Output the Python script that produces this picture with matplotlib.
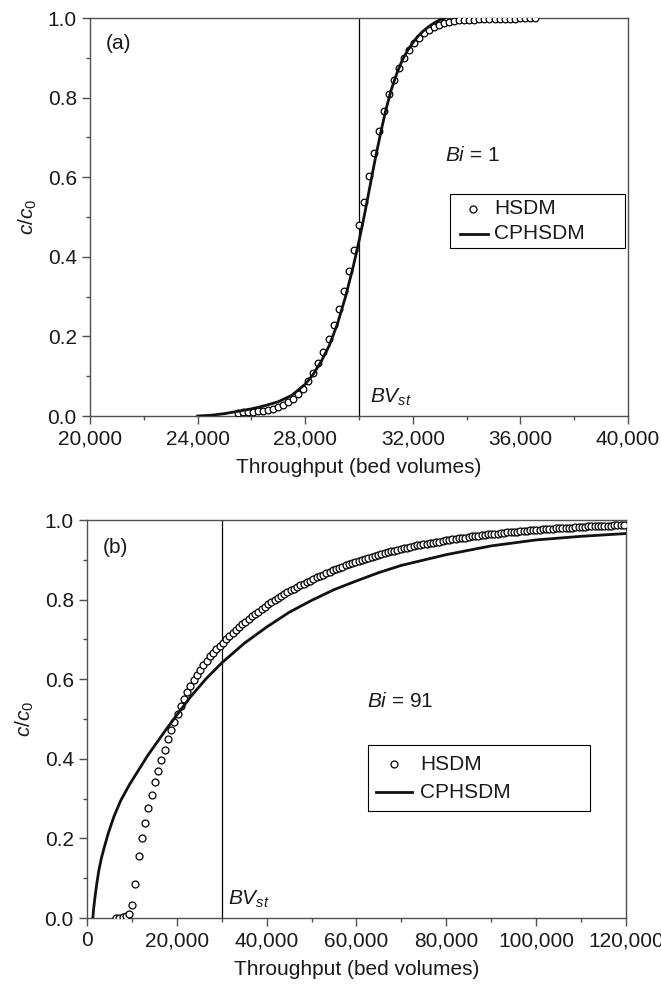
import numpy as np
import matplotlib
matplotlib.use('Agg')
import matplotlib.pyplot as plt
from matplotlib.patches import Rectangle
from matplotlib.ticker import MultipleLocator, StrMethodFormatter

plt.rcParams['font.family'] = ['Liberation Sans', 'DejaVu Sans']
plt.rcParams['mathtext.fontset'] = 'custom'
plt.rcParams['mathtext.rm'] = 'Liberation Sans'
plt.rcParams['mathtext.it'] = 'Liberation Sans:italic'

# panel (a), Bi = 1
bv_st = 30000
hsdm_a_x = np.arange(25500, 25500 + 187 * 60, 187)
hsdm_a_y = [0.008, 0.009, 0.010, 0.011, 0.012, 0.013, 0.015, 0.018, 0.022, 0.027,
            0.034, 0.043, 0.055, 0.069, 0.087, 0.109, 0.132, 0.162, 0.194, 0.229,
            0.269, 0.313, 0.364, 0.418, 0.480, 0.539, 0.602, 0.662, 0.716, 0.766,
            0.808, 0.844, 0.874, 0.899, 0.920, 0.937, 0.951, 0.962, 0.971, 0.978,
            0.983, 0.987, 0.990, 0.992, 0.994, 0.995, 0.996, 0.996, 0.997, 0.997,
            0.997, 0.998, 0.998, 0.998, 0.998, 0.998, 0.999, 0.999, 0.999, 0.999]
cph_a_x = [24000, 24500, 25000, 25500, 26000, 26500, 27000, 27500, 28000, 28300,
           28600, 28900, 29200, 29500, 29800, 30000, 30200, 30400, 30600, 30800,
           31000, 31200, 31400, 31600, 31800, 32000, 32200, 32400, 32600, 32800,
           33000, 33200]
cph_a_y = [0.0, 0.002, 0.006, 0.012, 0.018, 0.026, 0.036, 0.052, 0.080, 0.105,
           0.138, 0.178, 0.232, 0.300, 0.380, 0.440, 0.505, 0.575, 0.645, 0.710,
           0.770, 0.820, 0.860, 0.893, 0.918, 0.938, 0.955, 0.968, 0.979, 0.988,
           0.995, 1.0]

# panel (b), Bi = 91
hsdm_b_x = np.arange(6480, 119521, 720)
hsdm_b_y = [0.000, 0.001, 0.002, 0.004, 0.009, 0.033, 0.085, 0.155, 0.200, 0.239,
            0.276, 0.309, 0.341, 0.370, 0.397, 0.423, 0.449, 0.472, 0.493, 0.513,
            0.532, 0.550, 0.567, 0.582, 0.597, 0.611, 0.624, 0.636, 0.647, 0.658,
            0.667, 0.676, 0.684,
            0.692, 0.700, 0.708, 0.716, 0.724, 0.732, 0.739, 0.745, 0.752, 0.758,
            0.764, 0.770, 0.776, 0.782, 0.788, 0.793, 0.798, 0.803, 0.809, 0.813,
            0.818, 0.823, 0.827, 0.832, 0.836, 0.840, 0.844, 0.848, 0.852, 0.856,
            0.860, 0.863, 0.867, 0.870, 0.874, 0.877, 0.880, 0.883, 0.886, 0.889,
            0.892, 0.895, 0.897, 0.900, 0.902, 0.905, 0.907, 0.910, 0.912, 0.914,
            0.917, 0.919, 0.921, 0.923, 0.925, 0.927, 0.929, 0.930, 0.932, 0.934,
            0.936, 0.937, 0.939, 0.940, 0.942, 0.943, 0.945, 0.946, 0.948, 0.949,
            0.950, 0.952, 0.953, 0.954, 0.955, 0.956, 0.957, 0.959, 0.960, 0.961,
            0.962, 0.963, 0.964, 0.965, 0.965, 0.966, 0.967, 0.968, 0.969, 0.970,
            0.970, 0.971, 0.972, 0.973, 0.973, 0.974, 0.975, 0.975, 0.976, 0.977,
            0.977, 0.978, 0.978, 0.979, 0.979, 0.980, 0.980, 0.981, 0.981, 0.982,
            0.982, 0.983, 0.983, 0.984, 0.984, 0.985, 0.985, 0.985, 0.986, 0.986,
            0.986, 0.987, 0.987, 0.987, 0.988]
cph_b_x = [1300, 1450, 1700, 2100, 2600, 3200, 3900, 4800, 6000, 7500,
           9500, 11500, 13500, 15500, 17500, 20000, 23000, 26500, 30000, 35000,
           40000, 45000, 50000, 55000, 60000, 65000, 70000, 80000, 90000, 100000,
           110000, 120000]
cph_b_y = [0.0, 0.020, 0.045, 0.080, 0.117, 0.150, 0.180, 0.215, 0.255, 0.295,
           0.336, 0.372, 0.408, 0.440, 0.472, 0.510, 0.555, 0.601, 0.641, 0.690,
           0.731, 0.768, 0.798, 0.825, 0.847, 0.868, 0.886, 0.913, 0.935, 0.950,
           0.959, 0.966]

spine_col = '#505050'
txt_col = '#1a1a1a'
fs = 15

fig = plt.figure(figsize=(6.61, 9.96), dpi=100)
ax1 = fig.add_axes([0.1362, 0.5823, 0.8139, 0.3996])
ax2 = fig.add_axes([0.1316, 0.0783, 0.8154, 0.3996])


def style(ax, xlo, xhi, xmaj, xmin):
    ax.set_xlim(xlo, xhi)
    ax.set_ylim(0, 1.0)
    ax.xaxis.set_major_locator(MultipleLocator(xmaj))
    ax.xaxis.set_minor_locator(MultipleLocator(xmin))
    ax.yaxis.set_major_locator(MultipleLocator(0.2))
    ax.yaxis.set_minor_locator(MultipleLocator(0.1))
    ax.xaxis.set_major_formatter(StrMethodFormatter('{x:,.0f}'))
    ax.yaxis.set_major_formatter(StrMethodFormatter('{x:.1f}'))
    ax.tick_params(which='both', direction='out', top=False, right=False,
                   color=spine_col, width=1.0, labelsize=fs, labelcolor=txt_col)
    ax.tick_params(which='major', length=5.5, pad=4)
    ax.tick_params(which='minor', length=3)
    for s in ax.spines.values():
        s.set_color(spine_col)
        s.set_linewidth(1.0)
    ax.set_xlabel('Throughput (bed volumes)', fontsize=fs, color=txt_col)
    ax.set_ylabel(r'$c/c_0$', fontsize=fs, color=txt_col)
    ax.yaxis.set_label_coords(-0.095, 0.5)
    ax.xaxis.set_label_coords(0.5, -0.106)


def key(ax, box, mark_x, line_x, text_x, rows):
    # boxed key drawn in axes fraction
    x0, y0, x1, y1 = box
    ax.add_patch(Rectangle((x0, y0), x1 - x0, y1 - y0, transform=ax.transAxes,
                           fill=True, facecolor='white', edgecolor='black',
                           lw=0.8, zorder=5))
    ax.plot([mark_x], [rows[0]], 'o', ms=5, mfc='white', mec='black', mew=0.9,
            transform=ax.transAxes, zorder=6, clip_on=False)
    ax.plot(line_x, [rows[1], rows[1]], '-', color='#111111', lw=2.0,
            transform=ax.transAxes, zorder=6, clip_on=False)
    ax.text(text_x, rows[0], 'HSDM', transform=ax.transAxes, fontsize=fs,
            ha='left', va='center', color=txt_col, zorder=7)
    ax.text(text_x, rows[1], 'CPHSDM', transform=ax.transAxes, fontsize=fs,
            ha='left', va='center', color=txt_col, zorder=7)


# (a)
style(ax1, 20000, 40000, 4000, 2000)
ax1.axvline(bv_st, color='black', lw=0.9)
ax1.plot(hsdm_a_x, hsdm_a_y, 'o', ms=4.8, mfc='white', mec='black', mew=0.9, zorder=3)
ax1.plot(cph_a_x, cph_a_y, '-', color='#111111', lw=2.0, zorder=4)
ax1.text(0.03, 0.935, '(a)', transform=ax1.transAxes, fontsize=fs,
         ha='left', va='center', color=txt_col)
ax1.text(bv_st + 400, 0.048, r'$BV_{st}$', fontsize=fs, ha='left', va='center',
         color=txt_col)
ax1.text(0.66, 0.655, r'$Bi$ = 1', transform=ax1.transAxes, fontsize=fs,
         ha='left', va='center', color=txt_col)
key(ax1, (0.669, 0.423, 0.994, 0.557), 0.712, [0.688, 0.740], 0.751, [0.521, 0.458])

# (b)
style(ax2, 0, 120000, 20000, 10000)
ax2.axvline(bv_st, color='black', lw=0.9)
ax2.plot(hsdm_b_x, hsdm_b_y, 'o', ms=5.0, mfc='white', mec='black', mew=0.9, zorder=3)
ax2.plot(cph_b_x, cph_b_y, '-', color='#111111', lw=2.0, zorder=4)
ax2.text(0.03, 0.93, '(b)', transform=ax2.transAxes, fontsize=fs,
         ha='left', va='center', color=txt_col)
ax2.text(bv_st + 1400, 0.048, r'$BV_{st}$', fontsize=fs, ha='left', va='center',
         color=txt_col)
ax2.text(0.52, 0.543, r'$Bi$ = 91', transform=ax2.transAxes, fontsize=fs,
         ha='left', va='center', color=txt_col)
key(ax2, (0.521, 0.270, 0.934, 0.435), 0.570, [0.536, 0.603], 0.618, [0.386, 0.316])

fig.savefig('out.png', dpi=100)
